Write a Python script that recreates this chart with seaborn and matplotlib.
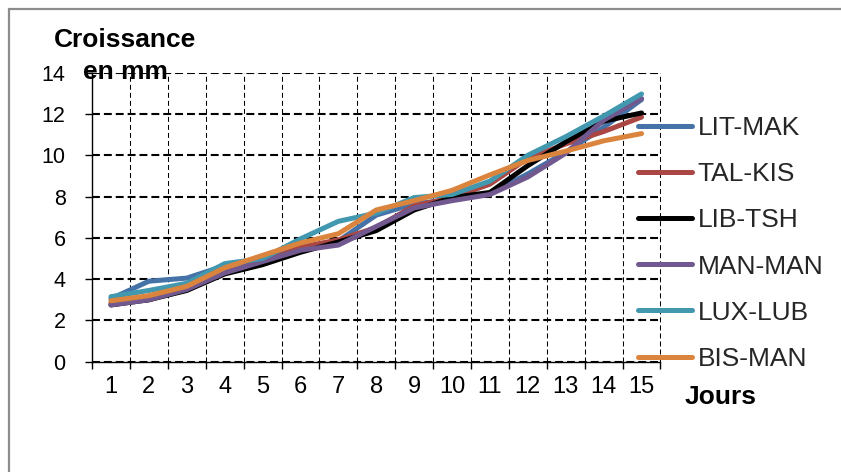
import matplotlib
matplotlib.use("Agg")
import matplotlib.pyplot as plt
from matplotlib.patches import Rectangle
from matplotlib.ticker import MultipleLocator, FixedLocator
import seaborn as sns
import pandas as pd

# Daily growth (mm) for each strain
jours = list(range(1, 16))
lit_mak = [3.05, 3.9, 4.05, 4.65, 4.95, 5.5, 5.85, 7.1, 7.65, 7.85, 8.15, 9.1, 10.15, 11.35, 12.7]
tal_kis = [2.85, 3.0, 3.55, 4.35, 4.8, 5.55, 5.9, 6.5, 7.55, 7.95, 8.6, 9.85, 10.55, 11.15, 11.85]
lib_tsh = [2.75, 3.0, 3.45, 4.25, 4.7, 5.3, 5.8, 6.35, 7.35, 7.95, 8.2, 9.5, 10.65, 11.65, 12.05]
man_man = [2.75, 3.0, 3.5, 4.3, 4.85, 5.4, 5.65, 6.55, 7.45, 7.8, 8.1, 8.95, 10.1, 11.7, 12.75]
lux_lub = [3.15, 3.45, 3.8, 4.75, 5.0, 5.95, 6.8, 7.2, 7.95, 8.1, 8.75, 10.0, 10.9, 11.9, 12.97]
bis_man = [2.95, 3.2, 3.65, 4.55, 5.15, 5.75, 6.2, 7.35, 7.8, 8.3, 9.05, 9.75, 10.2, 10.7, 11.05]

series = {
    "LIT-MAK": lit_mak,
    "TAL-KIS": tal_kis,
    "LIB-TSH": lib_tsh,
    "MAN-MAN": man_man,
    "LUX-LUB": lux_lub,
    "BIS-MAN": bis_man,
}
couleurs = ["#4572A7", "#AA4643", "#000000", "#71588F", "#4198AF", "#DB843D"]

df = pd.DataFrame(
    [(j, nom, v) for nom, vals in series.items() for j, v in zip(jours, vals)],
    columns=["jour", "souche", "croissance"],
)

sns.set_theme(style="white")
plt.rcParams["font.family"] = ["Liberation Sans", "DejaVu Sans"]

fig = plt.figure(figsize=(8.41, 4.72), dpi=100)
ax = fig.add_axes([92 / 841, 1 - 361.7 / 472, (660.5 - 92) / 841, (361.7 - 72.7) / 472])

sns.lineplot(
    data=df, x="jour", y="croissance", hue="souche",
    hue_order=list(series.keys()), palette=couleurs,
    linewidth=3.6, ax=ax, legend=True,
)

ax.set_xlim(0.5, 15.5)
ax.set_ylim(0, 14)
ax.set_xlabel("")
ax.set_ylabel("")

# axes: only left and bottom spines
for s in ["top", "right"]:
    ax.spines[s].set_visible(False)
for s in ["left", "bottom"]:
    ax.spines[s].set_color("black")
    ax.spines[s].set_linewidth(1.0)

ax.yaxis.set_major_locator(MultipleLocator(2))
ax.xaxis.set_major_locator(FixedLocator(jours))
ax.xaxis.set_minor_locator(FixedLocator([j - 0.5 for j in jours] + [15.5]))

ax.tick_params(axis="y", which="major", direction="out", length=5, width=1,
               color="black", labelsize=15.5, pad=14, left=True)
ax.tick_params(axis="x", which="major", length=0, labelsize=17, pad=10)
ax.tick_params(axis="x", which="minor", direction="out", length=5, width=1,
               color="black", bottom=True)
for lab in ax.get_xticklabels() + ax.get_yticklabels():
    lab.set_color("black")

# dashed grid
ax.grid(False)
ax.yaxis.grid(True, which="major", color="black", linewidth=1.5,
              linestyle=(0, (3.8, 1.9)))
ax.xaxis.grid(True, which="minor", color="black", linewidth=0.75,
              linestyle=(0, (4.8, 2.9)))
ax.set_axisbelow(True)

leg = ax.legend(
    loc="upper left", bbox_to_anchor=(638 / 841, 1 - 116 / 472),
    bbox_transform=fig.transFigure, frameon=False, fontsize=19,
    handlelength=2.05, handletextpad=0.2, labelspacing=0.84,
    borderpad=0, borderaxespad=0,
)
for h in leg.get_lines():
    h.set_linewidth(3.6)

fig.text(125 / 841, 1 - 47 / 472, "Croissance", ha="center", va="baseline",
         fontsize=19, fontweight="bold", color="black")
fig.text(125 / 841, 1 - 79 / 472, "en mm", ha="center", va="baseline",
         fontsize=19, fontweight="bold", color="black")
fig.text(685 / 841, 1 - 397 / 472, "Jours", ha="left", va="center",
         fontsize=19, fontweight="bold", color="black")

# outer chart frame (left and top edges)
fig.add_artist(Rectangle((9 / 841, -0.1), 2.0, 1.1 - 9 / 472,
                         transform=fig.transFigure, fill=False,
                         edgecolor="#8c8c8c", linewidth=1.6))

fig.savefig("out.png", dpi=100)
